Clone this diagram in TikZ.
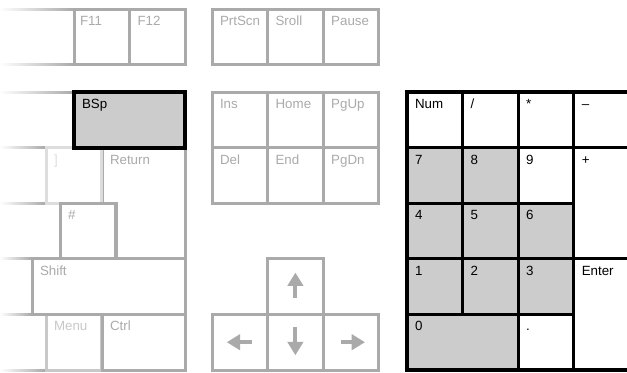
\documentclass[tikz,border=0pt]{standalone}
\usepackage{fontspec}
\setmainfont{Liberation Sans}
\usetikzlibrary{calc,arrows.meta}
\definecolor{kg}{HTML}{AAAAAA}
\definecolor{kfill}{HTML}{CCCCCC}
\definecolor{klight}{HTML}{DDDDDD}
\definecolor{kmid}{HTML}{C8C8C8}
\newcommand\fadeedge[2]{%
  \foreach \i in {0,...,23} {%
    \pgfmathsetmacro\pc{(\i+0.5)*100/24}%
    \draw[draw=kg!\pc!white, line width=2.25pt] ({\i*#2/24},#1) -- ({(\i+1)*#2/24},#1);
  }}
\begin{document}
\begin{tikzpicture}[x=0.75pt,y=-0.75pt,
  key/.style={rectangle, draw=kg, line width=2.25pt, fill=white, inner sep=0pt, outer sep=0pt,
    anchor=north west, minimum width=#1*0.75pt, minimum height=41.7pt},
  key/.default=55.6,
  tall/.style={minimum height=83.4pt},
  lightkey/.style={draw=klight},
  midkey/.style={draw=kmid},
  padkey/.style={key=#1, draw=black, line width=2.5pt},
  padkey/.default=55.6,
  graypad/.style={fill=kfill},
  lab/.style={anchor=base west, inner sep=0pt, outer sep=0pt, text=kg, font=\fontsize{10}{12}\selectfont},
  padlab/.style={lab, text=black},
  arr/.style={draw=kg, line width=3pt, -{Triangle[width=11.5pt,length=10pt]}}
]
\useasboundingbox (0,0) rectangle (627,372);

% fading edges on the left
\fadeedge{9}{74}
\fadeedge{64.6}{74}
\fadeedge{92}{74}
\fadeedge{147.6}{46}
\fadeedge{203.2}{46}
\fadeedge{258.8}{32}
\fadeedge{314.4}{32}
\fadeedge{370}{46}

% main block, left part
\draw[draw=kg, line width=2.25pt, fill=white] (102,147.6) -- (185.2,147.6) -- (185.2,258.8) -- (116,258.8) -- (116,203.2) -- (102,203.2) -- cycle;
\coordinate (ret) at (102,147.6);
\node[lab] (rett) at ($(ret)+(8,16.5)$) {Return};

\node[key, lightkey] (rbr) at (46,147.6) {};
\node[lab, text=klight] (rbrt) at ($(rbr.north west)+(8,16.5)$) {]};
\node[key] (hash) at (60,203.2) {};
\node[lab] (hasht) at ($(hash.north west)+(8,16.5)$) {\#};
\node[key, midkey] (menu) at (46,314.4) {};
\node[lab, text=kmid] (menut) at ($(menu.north west)+(8,16.5)$) {Menu};
\node[key=83.2] (ctrl) at (102,314.4) {};
\node[lab] (ctrlt) at ($(ctrl.north west)+(8,16.5)$) {Ctrl};
\node[key=153.2] (shift) at (32,258.8) {};
\node[lab] (shiftt) at ($(shift.north west)+(8,16.5)$) {Shift};

\node[key] (f11) at (74,9) {};
\node[lab] (f11t) at ($(f11.north west)+(6,16.5)$) {F11};
\node[key] (f12) at (129.6,9) {};
\node[lab] (f12t) at ($(f12.north west)+(8,16.5)$) {F12};

\node[key=111.2, draw=black, line width=3pt, fill=kfill] (bsp) at (74,92) {};
\node[padlab] (bspt) at ($(bsp.north west)+(8,16.5)$) {BSp};

% navigation block
\node[key] (prt) at (212,9) {};
\node[lab] (prtt) at ($(prt.north west)+(8,16.5)$) {PrtScn};
\node[key] (srl) at (267.6,9) {};
\node[lab] (srlt) at ($(srl.north west)+(8,16.5)$) {Sroll};
\node[key] (pau) at (323.2,9) {};
\node[lab] (paut) at ($(pau.north west)+(8,16.5)$) {Pause};

\node[key] (ins) at (212,92) {};
\node[lab] (inst) at ($(ins.north west)+(8,16.5)$) {Ins};
\node[key] (home) at (267.6,92) {};
\node[lab] (homet) at ($(home.north west)+(8,16.5)$) {Home};
\node[key] (pgup) at (323.2,92) {};
\node[lab] (pgupt) at ($(pgup.north west)+(8,16.5)$) {PgUp};

\node[key] (del) at (212,147.6) {};
\node[lab] (delt) at ($(del.north west)+(8,16.5)$) {Del};
\node[key] (end) at (267.6,147.6) {};
\node[lab] (endt) at ($(end.north west)+(8,16.5)$) {End};
\node[key] (pgdn) at (323.2,147.6) {};
\node[lab] (pgdnt) at ($(pgdn.north west)+(8,16.5)$) {PgDn};

% arrow keys
\node[key] (up) at (267.6,258.8) {};
\node[key] (left) at (212,314.4) {};
\node[key] (down) at (267.6,314.4) {};
\node[key] (right) at (323.2,314.4) {};
\draw[arr] ($(up.center)+(0,11)$) -- ($(up.center)+(0,-14)$);
\draw[arr] ($(left.center)+(12,0)$) -- ($(left.center)+(-13,0)$);
\draw[arr] ($(down.center)+(0,-15)$) -- ($(down.center)+(0,13)$);
\draw[arr] ($(right.center)+(-10,0)$) -- ($(right.center)+(14,0)$);

% numeric pad
\node[padkey] (num) at (407,92) {};
\node[padlab] (numt) at ($(num.north west)+(8,16.5)$) {Num};
\node[padkey] (slash) at (462.6,92) {};
\node[padlab] (slasht) at ($(slash.north west)+(8,16.5)$) {/};
\node[padkey] (star) at (518.2,92) {};
\node[padlab] (start) at ($(star.north west)+(8,16.5)$) {*};
\node[padkey] (minus) at (573.8,92) {};
\node[padlab] (minust) at ($(minus.north west)+(8,16.5)$) {–};

\node[padkey, graypad] (n7) at (407,147.6) {};
\node[padlab] (n7t) at ($(n7.north west)+(8,16.5)$) {7};
\node[padkey, graypad] (n8) at (462.6,147.6) {};
\node[padlab] (n8t) at ($(n8.north west)+(8,16.5)$) {8};
\node[padkey] (n9) at (518.2,147.6) {};
\node[padlab] (n9t) at ($(n9.north west)+(8,16.5)$) {9};
\node[padkey, tall] (plus) at (573.8,147.6) {};
\node[padlab] (plust) at ($(plus.north west)+(8,16.5)$) {+};

\node[padkey, graypad] (n4) at (407,203.2) {};
\node[padlab] (n4t) at ($(n4.north west)+(8,16.5)$) {4};
\node[padkey, graypad] (n5) at (462.6,203.2) {};
\node[padlab] (n5t) at ($(n5.north west)+(8,16.5)$) {5};
\node[padkey, graypad] (n6) at (518.2,203.2) {};
\node[padlab] (n6t) at ($(n6.north west)+(8,16.5)$) {6};

\node[padkey, graypad] (n1) at (407,258.8) {};
\node[padlab] (n1t) at ($(n1.north west)+(8,16.5)$) {1};
\node[padkey, graypad] (n2) at (462.6,258.8) {};
\node[padlab] (n2t) at ($(n2.north west)+(8,16.5)$) {2};
\node[padkey, graypad] (n3) at (518.2,258.8) {};
\node[padlab] (n3t) at ($(n3.north west)+(8,16.5)$) {3};
\node[padkey, tall] (enter) at (573.8,258.8) {};
\node[padlab] (entert) at ($(enter.north west)+(8,16.5)$) {Enter};

\node[padkey=111.2, graypad] (n0) at (407,314.4) {};
\node[padlab] (n0t) at ($(n0.north west)+(8,16.5)$) {0};
\node[padkey] (dot) at (518.2,314.4) {};
\node[padlab] (dott) at ($(dot.north west)+(8,16.5)$) {.};
\end{tikzpicture}
\end{document}
